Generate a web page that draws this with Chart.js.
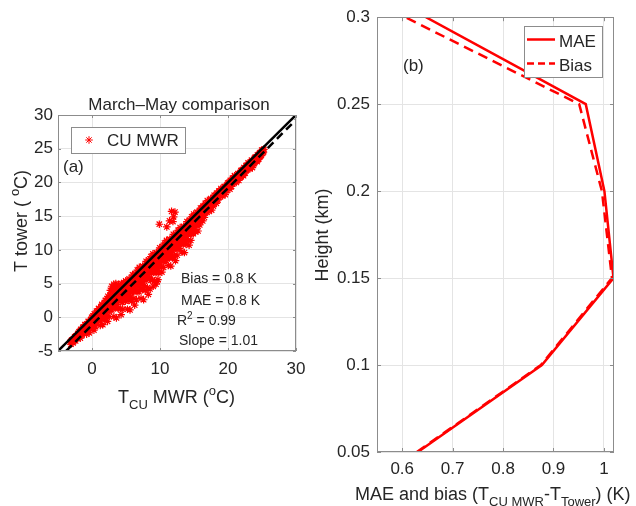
<!DOCTYPE html>
<html>
<head>
<meta charset="utf-8">
<script src="https://cdn.jsdelivr.net/npm/chart.js@4.4.1/dist/chart.umd.min.js"></script>
<style>
  html, body { margin: 0; padding: 0; background: #fff; }
  #wrap { position: relative; width: 636px; height: 506px; }
  #wrap canvas { position: absolute; left: 0; top: 0; }
</style>
</head>
<body>
<div id="wrap">
  <canvas id="scatter" width="636" height="506"></canvas>
  <canvas id="profile" width="636" height="506"></canvas>
</div>
<script>
// ---- panel (a): CU MWR vs tower temperature, March-May (deg C) ----
// outer spread of the cloud
const mwrT = [
  -3.2, -3.1, -3.05,
  -2.97, -2.91, -2.85, -2.79, -2.72, -2.66, -2.6, -2.54, -2.47, -2.41, -2.35, -2.29, -2.22, -2.16, -2.1, -2.04,
  -1.97, -1.91, -1.85, -1.79, -1.72, -1.66, -1.6, -1.54, -1.47, -1.41, -1.35, -1.29, -1.22, -1.16, -1.1, -1.04,
  -0.97, -0.91, -0.85, -0.79, -0.72, -0.66, -0.6, -0.54, -0.47, -0.41, -0.35, -0.29, -0.22, -0.16, -0.1, -0.04,
  0.03, 0.09, 0.15, 0.21, 0.28, 0.34, 0.4, 0.46, 0.53, 0.59, 0.65, 0.71, 0.78, 0.84, 0.9, 0.96,
  1.03, 1.09, 1.15, 1.21, 1.28, 1.34, 1.4, 1.46, 1.53, 1.59, 1.65, 1.71, 1.78, 1.84, 1.9, 1.96,
  2.03, 2.09, 2.15, 2.21, 2.28, 2.34, 2.4, 2.46, 2.53, 2.59, 2.65, 2.71, 2.78, 2.84, 2.9, 2.96,
  3.03, 3.09, 3.15, 3.21, 3.28, 3.34, 3.4, 3.46, 3.53, 3.59, 3.65, 3.71, 3.78, 3.84, 3.9, 3.96,
  2.9, 3.2, 3.5, 3.7, 3.9, 4.2, 4.5, 4.8, 3.3, 4.1, 2.7, 4.6,
  4.03, 4.09, 4.15, 4.21, 4.28, 4.34, 4.4, 4.46, 4.53, 4.59, 4.65, 4.71, 4.78, 4.84, 4.9, 4.96,
  5.03, 5.09, 5.15, 5.21, 5.28, 5.34, 5.4, 5.46, 5.53, 5.59, 5.65, 5.71, 5.78, 5.84, 5.9, 5.96,
  6.03, 6.09, 6.15, 6.21, 6.28, 6.34, 6.4, 6.46, 6.53, 6.59, 6.65, 6.71, 6.78, 6.84, 6.9, 6.96,
  7.03, 7.09, 7.15, 7.21, 7.28, 7.34, 7.4, 7.46, 7.53, 7.59, 7.65, 7.71, 7.78, 7.84, 7.9, 7.96,
  8.03, 8.09, 8.15, 8.21, 8.28, 8.34, 8.4, 8.46, 8.53, 8.59, 8.65, 8.71, 8.78, 8.84, 8.9, 8.96,
  9.03, 9.09, 9.15, 9.21, 9.28, 9.34, 9.4, 9.46, 9.53, 9.59, 9.65, 9.71, 9.78, 9.84, 9.9, 9.96,
  9.0, 9.4, 9.7,
  10.03, 10.09, 10.15, 10.21, 10.28, 10.34, 10.4, 10.46, 10.53, 10.59, 10.65, 10.71, 10.78, 10.84, 10.9, 10.96,
  11.03, 11.09, 11.15, 11.21, 11.28, 11.34, 11.4, 11.46, 11.53, 11.59, 11.65, 11.71, 11.78, 11.84, 11.9, 11.96,
  12.03, 12.09, 12.15, 12.21, 12.28, 12.34, 12.4, 12.46, 12.53, 12.59, 12.65, 12.71, 12.78, 12.84, 12.9, 12.96,
  13.03, 13.09, 13.15, 13.21, 13.28, 13.34, 13.4, 13.46, 13.53, 13.59, 13.65, 13.71, 13.78, 13.84, 13.9, 13.96,
  14.03, 14.09, 14.15, 14.21, 14.28, 14.34, 14.4, 14.46, 14.53, 14.59, 14.65, 14.71, 14.78, 14.84, 14.9, 14.96,
  15.03, 15.09, 15.15, 15.21, 15.28, 15.34, 15.4, 15.46, 15.53, 15.59, 15.65, 15.71, 15.78, 15.84, 15.9, 15.96,
  16.03, 16.09, 16.15, 16.21, 16.28, 16.34, 16.4, 16.46, 16.53, 16.59, 16.65, 16.71, 16.78, 16.84, 16.9, 16.96,
  17.03, 17.09, 17.15, 17.21, 17.28, 17.34, 17.4, 17.46, 17.53, 17.59, 17.65, 17.71, 17.78, 17.84, 17.9, 17.96,
  18.03, 18.09, 18.15, 18.21, 18.28, 18.34, 18.4, 18.46, 18.53, 18.59, 18.65, 18.71, 18.78, 18.84, 18.9, 18.96,
  19.03, 19.09, 19.15, 19.21, 19.28, 19.34, 19.4, 19.46, 19.53, 19.59, 19.65, 19.71, 19.78, 19.84, 19.9, 19.96,
  20.03, 20.09, 20.15, 20.21, 20.28, 20.34, 20.4, 20.46, 20.53, 20.59, 20.65, 20.71, 20.78, 20.84, 20.9, 20.96,
  21.03, 21.09, 21.15, 21.21, 21.28, 21.34, 21.4, 21.46, 21.53, 21.59, 21.65, 21.71, 21.78, 21.84, 21.9, 21.96,
  22.03, 22.09, 22.15, 22.21, 22.28, 22.34, 22.4, 22.46, 22.53, 22.59, 22.65, 22.71, 22.78, 22.84, 22.9, 22.96,
  23.03, 23.09, 23.15, 23.21, 23.28, 23.34, 23.4, 23.46, 23.53, 23.59, 23.65, 23.71, 23.78, 23.84, 23.9, 23.96,
  24.03, 24.09, 24.15, 24.21, 24.28, 24.34, 24.4, 24.46, 24.53, 24.59, 24.65, 24.71, 24.78, 24.84, 24.9, 24.96,
  25.03, 25.09, 25.15, 25.21, 25.28,
  9.9, 11.0, 11.4, 11.7, 12.0, 12.2, 11.9
];
const towerT = [
  -3.7, -4.0, -3.5,
  -3.4, -3.6, -3.4, -3.8, -3.2, -3.3, -3.4, -2.9, -3.0, -3.5, -2.8, -3.1, -2.8, -3.1, -2.5, -2.7,
  -2.6, -2.2, -2.9, -2.2, -3.1, -1.8, -2.4, -2.1, -2.7, -1.8, -2.3, -1.5, -2.0, -1.7, -2.1, -1.1,
  -1.1, -2.0, -1.4, -2.5, -1.0, -1.5, -1.9, -0.6, -1.1, -2.3, -0.8, -1.5, -1.0, -1.6, -0.3, -1.0,
  -0.8, 0.0, -1.5, -0.2, -1.9, 0.5, -0.7, -0.2, -1.4, 0.3, -0.7, 0.7, -0.2, 0.3, -0.6, 1.3,
  1.3, -0.2, 0.7, -1.2, 1.2, 0.4, -0.3, 1.9, 0.9, -1.1, 1.4, 0.2, 1.0, -0.2, 2.0, 0.8,
  1.3, 2.5, 0.1, 2.1, -0.6, 3.1, 1.3, 2.0, 0.1, 2.7, 1.1, 3.3, 1.8, 2.6, 1.1, 4.0,
  3.9, 1.6, 3.0, 0.1, 3.6, 2.4, 1.4, 4.6, 3.1, -0.1, 3.7, 1.9, 3.1, 1.3, 4.5, 2.7,
  4.6, 4.9, 5.0, 4.5, 4.9, 4.7, 4.8, 4.4, 4.3, 4.1, 4.0, 4.2,
  2.8, 4.2, 1.3, 3.8, 0.4, 5.0, 2.7, 3.5, 1.2, 4.4, 2.4, 5.1, 3.3, 4.2, 2.4, 5.4,
  5.0, 2.7, 4.1, 1.2, 4.7, 3.5, 2.5, 5.7, 4.2, 1.1, 4.8, 3.0, 4.2, 2.4, 5.6, 3.8,
  4.3, 5.7, 2.8, 5.3, 1.8, 6.5, 4.1, 5.0, 2.6, 5.9, 3.8, 6.6, 4.8, 5.6, 3.8, 7.4,
  6.9, 4.4, 5.8, 2.8, 6.5, 5.2, 4.1, 7.6, 5.9, 2.6, 6.6, 4.7, 5.9, 4.0, 7.4, 5.5,
  6.1, 7.6, 4.4, 7.1, 3.4, 8.5, 5.9, 6.8, 4.2, 7.8, 5.5, 8.5, 6.5, 7.5, 5.5, 9.4,
  8.9, 6.8, 8.1, 5.4, 8.7, 7.5, 6.6, 9.6, 8.2, 5.3, 8.8, 7.2, 8.2, 6.6, 9.6, 7.9,
  4.6, 4.9, 5.6,
  8.7, 9.8, 7.5, 9.5, 6.7, 10.5, 8.6, 9.3, 7.4, 10.1, 8.4, 10.7, 9.2, 9.9, 8.4, 11.4,
  11.0, 9.0, 10.2, 7.7, 10.8, 9.7, 8.8, 11.6, 10.3, 7.6, 10.9, 9.4, 10.3, 8.8, 11.6, 10.1,
  10.5, 11.7, 9.2, 11.4, 8.4, 12.4, 10.4, 11.2, 9.2, 12.0, 10.2, 12.6, 11.0, 11.8, 10.2, 13.3,
  12.9, 10.9, 12.1, 9.7, 12.7, 11.6, 10.8, 13.5, 12.3, 9.6, 12.8, 11.3, 12.3, 10.8, 13.5, 12.0,
  12.6, 13.7, 11.4, 13.4, 10.7, 14.4, 12.6, 13.3, 11.4, 14.0, 12.4, 14.6, 13.1, 13.9, 12.4, 15.3,
  15.0, 13.6, 14.5, 12.7, 14.9, 14.2, 13.6, 15.6, 14.7, 12.8, 15.1, 14.0, 14.8, 13.7, 15.7, 14.6,
  15.3, 16.0, 14.7, 15.9, 14.3, 16.5, 15.5, 15.9, 14.8, 16.4, 15.5, 16.8, 16.0, 16.4, 15.6, 17.3,
  17.0, 16.2, 16.8, 15.7, 17.1, 16.6, 16.3, 17.6, 17.0, 15.9, 17.4, 16.7, 17.2, 16.5, 17.8, 17.2,
  17.5, 18.0, 17.1, 17.9, 16.9, 18.4, 17.7, 18.0, 17.4, 18.4, 17.8, 18.7, 18.2, 18.5, 18.0, 19.1,
  18.9, 18.3, 18.7, 18.0, 19.0, 18.7, 18.5, 19.4, 19.0, 18.2, 19.3, 18.8, 19.2, 18.8, 19.7, 19.2,
  19.5, 19.9, 19.2, 19.9, 19.0, 20.3, 19.7, 20.0, 19.4, 20.3, 19.8, 20.6, 20.2, 20.4, 20.0, 21.0,
  20.8, 20.3, 20.7, 20.0, 21.0, 20.7, 20.5, 21.3, 21.0, 20.3, 21.3, 20.9, 21.2, 20.8, 21.7, 21.2,
  21.4, 21.8, 21.1, 21.8, 21.0, 22.2, 21.7, 21.9, 21.4, 22.2, 21.8, 22.5, 22.1, 22.4, 22.0, 22.9,
  22.8, 22.3, 22.6, 22.0, 22.9, 22.6, 22.4, 23.3, 22.9, 22.2, 23.2, 22.8, 23.1, 22.8, 23.6, 23.2,
  23.4, 23.7, 23.2, 23.7, 23.1, 24.1, 23.7, 23.9, 23.5, 24.2, 23.8, 24.4, 24.1, 24.3, 24.0, 24.8,
  24.6, 24.3, 24.8, 24.5, 24.9,
  13.8, 13.4, 14.3, 15.7, 14.9, 15.6, 14.2
];
// dense core of the cloud
const coreMwrT = [
  -2.94, -2.84, -2.74, -2.64, -2.54, -2.44, -2.34, -2.24, -2.14, -2.04,
  -1.94, -1.84, -1.74, -1.64, -1.54, -1.44, -1.34, -1.24, -1.14, -1.04,
  -0.94, -0.84, -0.74, -0.64, -0.54, -0.44, -0.34, -0.24, -0.14, -0.04,
  0.06, 0.16, 0.26, 0.36, 0.46, 0.56, 0.66, 0.76, 0.86, 0.96,
  1.06, 1.16, 1.26, 1.36, 1.46, 1.56, 1.66, 1.76, 1.86, 1.96,
  2.06, 2.16, 2.26, 2.36, 2.46, 2.56, 2.66, 2.76, 2.86, 2.96,
  3.06, 3.16, 3.26, 3.36, 3.46, 3.56, 3.66, 3.76, 3.86, 3.96,
  4.06, 4.16, 4.26, 4.36, 4.46, 4.56, 4.66, 4.76, 4.86, 4.96,
  5.06, 5.16, 5.26, 5.36, 5.46, 5.56, 5.66, 5.76, 5.86, 5.96,
  6.06, 6.16, 6.26, 6.36, 6.46, 6.56, 6.66, 6.76, 6.86, 6.96,
  7.06, 7.16, 7.26, 7.36, 7.46, 7.56, 7.66, 7.76, 7.86, 7.96,
  8.06, 8.16, 8.26, 8.36, 8.46, 8.56, 8.66, 8.76, 8.86, 8.96,
  9.06, 9.16, 9.26, 9.36, 9.46, 9.56, 9.66, 9.76, 9.86, 9.96,
  10.06, 10.16, 10.26, 10.36, 10.46, 10.56, 10.66, 10.76, 10.86, 10.96,
  11.06, 11.16, 11.26, 11.36, 11.46, 11.56, 11.66, 11.76, 11.86, 11.96,
  12.06, 12.16, 12.26, 12.36, 12.46, 12.56, 12.66, 12.76, 12.86, 12.96,
  13.06, 13.16, 13.26, 13.36, 13.46, 13.56, 13.66, 13.76, 13.86, 13.96,
  14.06, 14.16, 14.26, 14.36, 14.46, 14.56, 14.66, 14.76, 14.86, 14.96,
  15.06, 15.16, 15.26, 15.36, 15.46, 15.56, 15.66, 15.76, 15.86, 15.96,
  16.06, 16.16, 16.26, 16.36, 16.46, 16.56, 16.66, 16.76, 16.86, 16.96,
  17.06, 17.16, 17.26, 17.36, 17.46, 17.56, 17.66, 17.76, 17.86, 17.96,
  18.06, 18.16, 18.26, 18.36, 18.46, 18.56, 18.66, 18.76, 18.86, 18.96,
  19.06, 19.16, 19.26, 19.36, 19.46, 19.56, 19.66, 19.76, 19.86, 19.96,
  20.06, 20.16, 20.26, 20.36, 20.46, 20.56, 20.66, 20.76, 20.86, 20.96,
  21.06, 21.16, 21.26, 21.36, 21.46, 21.56, 21.66, 21.76, 21.86, 21.96,
  22.06, 22.16, 22.26, 22.36, 22.46, 22.56, 22.66, 22.76, 22.86, 22.96,
  23.06, 23.16, 23.26, 23.36, 23.46, 23.56, 23.66, 23.76, 23.86, 23.96,
  24.06, 24.16, 24.26, 24.36, 24.46, 24.56, 24.66, 24.76, 24.86, 24.96
];
const coreTowerT = [
  -3.4, -3.5, -3.3, -3.4, -3.0, -3.0, -2.8, -2.9, -2.7, -2.4,
  -2.5, -2.1, -2.5, -2.0, -2.4, -1.9, -1.5, -1.9, -1.5, -1.6,
  -1.2, -1.6, -1.2, -1.6, -0.7, -1.1, -0.7, -1.1, -0.7, 0.0,
  -0.6, 0.2, -0.7, 0.1, -0.7, 0.1, 0.9, 0.0, 0.7, 0.4,
  1.2, 0.4, 1.0, 0.2, 1.8, 1.0, 1.6, 0.8, 1.4, 2.5,
  1.2, 2.4, 1.0, 2.2, 0.9, 2.1, 3.2, 1.7, 2.8, 2.4,
  3.0, 1.8, 2.7, 1.5, 3.7, 2.5, 3.4, 2.2, 3.1, 4.5,
  2.8, 4.3, 2.4, 3.9, 2.2, 3.7, 5.1, 3.2, 4.6, 4.0,
  4.8, 3.4, 4.4, 3.1, 5.5, 4.1, 5.1, 3.7, 4.7, 6.3,
  4.6, 6.2, 4.2, 5.8, 3.9, 5.5, 7.0, 5.0, 6.4, 5.8,
  6.7, 5.3, 6.3, 4.9, 7.5, 6.0, 7.0, 5.6, 6.6, 8.3,
  6.4, 8.1, 6.0, 7.7, 5.7, 7.4, 9.0, 6.8, 8.4, 7.7,
  8.8, 7.5, 8.4, 7.1, 9.5, 8.2, 9.1, 7.8, 8.8, 10.3,
  8.8, 10.2, 8.5, 9.9, 8.3, 9.7, 11.0, 9.2, 10.5, 10.0,
  10.8, 9.6, 10.5, 9.3, 11.5, 10.3, 11.2, 10.0, 10.9, 12.3,
  10.7, 12.1, 10.4, 11.8, 10.2, 11.6, 12.9, 11.1, 12.4, 11.9,
  12.8, 11.6, 12.5, 11.3, 13.4, 12.3, 13.1, 12.0, 12.8, 14.2,
  12.8, 14.1, 12.5, 13.8, 12.4, 13.7, 14.9, 13.3, 14.5, 14.0,
  14.9, 14.0, 14.7, 13.9, 15.5, 14.6, 15.3, 14.4, 15.1, 16.2,
  15.4, 16.2, 15.3, 16.1, 15.2, 16.1, 16.9, 15.9, 16.7, 16.4,
  16.9, 16.4, 16.8, 16.3, 17.4, 16.9, 17.4, 16.8, 17.3, 18.1,
  17.4, 18.1, 17.4, 18.0, 17.4, 18.1, 18.7, 18.0, 18.6, 18.4,
  18.8, 18.4, 18.8, 18.4, 19.3, 18.9, 19.3, 18.9, 19.3, 19.9,
  19.4, 20.0, 19.4, 20.0, 19.4, 20.0, 20.6, 20.0, 20.5, 20.4,
  20.7, 20.3, 20.7, 20.3, 21.2, 20.8, 21.2, 20.8, 21.2, 21.8,
  21.3, 21.9, 21.3, 21.9, 21.4, 21.9, 22.5, 21.9, 22.4, 22.3,
  22.6, 22.3, 22.7, 22.3, 23.1, 22.8, 23.1, 22.8, 23.2, 23.7,
  23.3, 23.8, 23.3, 23.8, 23.4, 23.9, 24.4, 23.9, 24.4, 24.3
];
// 1:1 line and fitted line end points
const oneToOneX = [-5, 30];
const oneToOneY = [-5, 30];
const fitX = [-3.8, 30];
const fitY = [-5, 29.3];
const tempTicksX = [0, 10, 20, 30];
const tempTicksY = [-5, 0, 5, 10, 15, 20, 25, 30];

// ---- panel (b): MAE and bias profile ----
const heightKm = [0.05, 0.1, 0.15, 0.2, 0.25, 0.3];
const maeK = [0.631, 0.877, 1.019, 1.001, 0.964, 0.647];
const biasK = [0.629, 0.875, 1.016, 0.996, 0.951, 0.606];
const errTicks = [0.6, 0.7, 0.8, 0.9, 1.0];
const heightTicks = [0.05, 0.1, 0.15, 0.2, 0.25, 0.3];

const FONT = "'Liberation Sans', Arial, Helvetica, sans-serif";
const INK = '#262626';
const FRAME = '#8c8c8c';
const GRID = '#e4e4e4';
const RED = '#ff0000';

function setFont(ctx, size) { ctx.font = size + 'px ' + FONT; }

// parts: [[text, 'n' | 'sub' | 'sup'], ...]
function richText(ctx, parts, x, y, size, align) {
  const small = Math.round(size * 0.72);
  const sizes = parts.map(p => p[1] === 'n' ? size : small);
  const widths = parts.map((p, i) => { setFont(ctx, sizes[i]); return ctx.measureText(p[0]).width; });
  const total = widths.reduce((a, b) => a + b, 0);
  let cx = align === 'center' ? x - total / 2 : (align === 'right' ? x - total : x);
  ctx.textAlign = 'left';
  ctx.textBaseline = 'alphabetic';
  parts.forEach((p, i) => {
    setFont(ctx, sizes[i]);
    const dy = p[1] === 'sub' ? size * 0.32 : (p[1] === 'sup' ? -size * 0.42 : 0);
    ctx.fillText(p[0], cx, y + dy);
    cx += widths[i];
  });
}

// matlab style box with inward tick marks
function drawFrame(chart, len) {
  const {ctx, chartArea: a, scales} = chart;
  ctx.save();
  ctx.strokeStyle = FRAME;
  ctx.lineWidth = 1;
  ctx.beginPath();
  scales.x.ticks.forEach(t => {
    const px = Math.round(scales.x.getPixelForValue(t.value)) + 0.5;
    ctx.moveTo(px, a.bottom); ctx.lineTo(px, a.bottom - len);
    ctx.moveTo(px, a.top); ctx.lineTo(px, a.top + len);
  });
  scales.y.ticks.forEach(t => {
    const py = Math.round(scales.y.getPixelForValue(t.value)) + 0.5;
    ctx.moveTo(a.left, py); ctx.lineTo(a.left + len, py);
    ctx.moveTo(a.right, py); ctx.lineTo(a.right - len, py);
  });
  ctx.stroke();
  ctx.strokeRect(Math.round(a.left) + 0.5, Math.round(a.top) + 0.5, Math.round(a.width) - 1, Math.round(a.height) - 1);
  ctx.restore();
}

function drawStar(ctx, x, y, r) {
  const d = r * Math.SQRT1_2;
  ctx.beginPath();
  ctx.moveTo(x - r, y); ctx.lineTo(x + r, y);
  ctx.moveTo(x, y - r); ctx.lineTo(x, y + r);
  ctx.moveTo(x - d, y - d); ctx.lineTo(x + d, y + d);
  ctx.moveTo(x - d, y + d); ctx.lineTo(x + d, y - d);
  ctx.stroke();
}

function tickFont() { return {family: FONT, size: 17}; }

const decoA = {
  id: 'decoA',
  afterDraw(chart) {
    const ctx = chart.ctx;
    drawFrame(chart, 3);
    ctx.save();
    ctx.fillStyle = INK;
    // title
    setFont(ctx, 17);
    ctx.textAlign = 'center';
    ctx.textBaseline = 'alphabetic';
    ctx.fillText('March\u2013May comparison', 179, 110);
    // legend
    ctx.fillStyle = '#fff';
    ctx.fillRect(71.5, 127.5, 114, 26);
    ctx.strokeStyle = FRAME;
    ctx.lineWidth = 1;
    ctx.strokeRect(71.5, 127.5, 114, 26);
    ctx.strokeStyle = RED;
    drawStar(ctx, 89, 140, 3.8);
    ctx.fillStyle = INK;
    richText(ctx, [['CU MWR', 'n']], 107, 146, 17, 'left');
    richText(ctx, [['(a)', 'n']], 63, 172, 17, 'left');
    // stats
    richText(ctx, [['Bias = 0.8 K', 'n']], 181, 283, 14, 'left');
    richText(ctx, [['MAE = 0.8 K', 'n']], 181, 305, 14, 'left');
    richText(ctx, [['R', 'n'], ['2', 'sup'], [' = 0.99', 'n']], 177, 325, 14, 'left');
    richText(ctx, [['Slope = 1.01', 'n']], 179, 345, 14, 'left');
    // axis titles
    richText(ctx, [['T', 'n'], ['CU', 'sub'], [' MWR (', 'n'], ['o', 'sup'], ['C)', 'n']], 118, 403, 18, 'left');
    ctx.translate(27, 221);
    ctx.rotate(-Math.PI / 2);
    richText(ctx, [['T tower ( ', 'n'], ['o', 'sup'], ['C)', 'n']], 0, 0, 18, 'center');
    ctx.restore();
  }
};

const decoB = {
  id: 'decoB',
  afterDraw(chart) {
    const ctx = chart.ctx;
    drawFrame(chart, 4);
    ctx.save();
    // legend
    ctx.fillStyle = '#fff';
    ctx.fillRect(524.5, 26.5, 78, 51);
    ctx.strokeStyle = FRAME;
    ctx.lineWidth = 1;
    ctx.strokeRect(524.5, 26.5, 78, 51);
    ctx.strokeStyle = RED;
    ctx.lineWidth = 2.5;
    ctx.beginPath(); ctx.moveTo(527, 39.5); ctx.lineTo(555, 39.5); ctx.stroke();
    ctx.setLineDash([7, 4]);
    ctx.beginPath(); ctx.moveTo(527, 63.5); ctx.lineTo(555, 63.5); ctx.stroke();
    ctx.setLineDash([]);
    ctx.fillStyle = INK;
    richText(ctx, [['MAE', 'n']], 559, 46.5, 17, 'left');
    richText(ctx, [['Bias', 'n']], 559, 70.5, 17, 'left');
    richText(ctx, [['(b)', 'n']], 403, 71, 17, 'left');
    // axis titles
    richText(ctx, [['MAE and bias (T', 'n'], ['CU MWR', 'sub'], ['-T', 'n'], ['Tower', 'sub'], [') (K)', 'n']], 355, 500, 18, 'left');
    ctx.translate(328, 235);
    ctx.rotate(-Math.PI / 2);
    richText(ctx, [['Height (km)', 'n']], 0, 0, 18, 'center');
    ctx.restore();
  }
};

const pts = (xs, ys) => xs.map((v, i) => ({x: v, y: ys[i]}));
const fmt = v => String(+Number(v).toFixed(2));

new Chart(document.getElementById('scatter'), {
  type: 'scatter',
  data: {
    datasets: [
      {label: '1:1', data: pts(oneToOneX, oneToOneY), showLine: true, borderColor: '#000', borderWidth: 2.5, pointRadius: 0},
      {label: 'fit', data: pts(fitX, fitY), showLine: true, borderColor: '#000', borderWidth: 2.5, borderDash: [8, 5], pointRadius: 0},
      {label: 'CU MWR', data: pts(mwrT.concat(coreMwrT), towerT.concat(coreTowerT)), pointStyle: 'star', pointRadius: 3.8,
       pointBorderColor: RED, pointBackgroundColor: RED, pointBorderWidth: 1.2}
    ]
  },
  options: {
    responsive: false,
    animation: false,
    devicePixelRatio: 1,
    layout: {padding: {left: 0, top: 115, right: 340, bottom: 115}},
    plugins: {legend: {display: false}, tooltip: {enabled: false}},
    scales: {
      x: {
        type: 'linear', min: -5, max: 30,
        afterBuildTicks: s => { s.ticks = tempTicksX.map(v => ({value: v})); },
        afterFit: s => { s.height = 40; },
        grid: {color: GRID, drawTicks: false},
        border: {display: false},
        ticks: {color: INK, font: tickFont(), padding: 8, maxRotation: 0}
      },
      y: {
        type: 'linear', min: -5, max: 30,
        afterBuildTicks: s => { s.ticks = tempTicksY.map(v => ({value: v})); },
        afterFit: s => { s.width = 58; },
        grid: {color: GRID, drawTicks: false},
        border: {display: false},
        ticks: {color: INK, font: tickFont(), padding: 5}
      }
    }
  },
  plugins: [decoA]
});

new Chart(document.getElementById('profile'), {
  type: 'scatter',
  data: {
    datasets: [
      {label: 'MAE', data: pts(maeK, heightKm), showLine: true, borderColor: RED, borderWidth: 2.5, pointRadius: 0},
      {label: 'Bias', data: pts(biasK, heightKm), showLine: true, borderColor: RED, borderWidth: 2.5, borderDash: [10, 6], pointRadius: 0}
    ]
  },
  options: {
    responsive: false,
    animation: false,
    devicePixelRatio: 1,
    layout: {padding: {left: 320, top: 13, right: 22, bottom: 14}},
    plugins: {legend: {display: false}, tooltip: {enabled: false}},
    scales: {
      x: {
        type: 'linear', min: 0.55, max: 1.02,
        afterBuildTicks: s => { s.ticks = errTicks.map(v => ({value: v})); },
        afterFit: s => { s.height = 40; },
        grid: {color: GRID, drawTicks: false},
        border: {display: false},
        ticks: {color: INK, font: tickFont(), padding: 7, maxRotation: 0, callback: fmt}
      },
      y: {
        type: 'linear', min: 0.05, max: 0.3,
        afterBuildTicks: s => { s.ticks = heightTicks.map(v => ({value: v})); },
        afterFit: s => { s.width = 57; },
        grid: {color: GRID, drawTicks: false},
        border: {display: false},
        ticks: {color: INK, font: tickFont(), padding: 7, callback: fmt}
      }
    }
  },
  plugins: [decoB]
});
</script>
</body>
</html>
